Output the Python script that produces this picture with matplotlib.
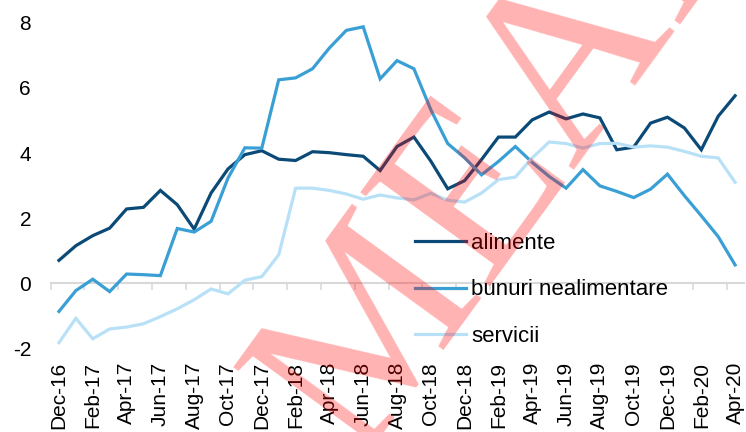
import matplotlib
matplotlib.use("Agg")
import matplotlib.pyplot as plt
import numpy as np

# monthly data, Dec-16 .. Apr-20
months = ["Dec-16", "Jan-17", "Feb-17", "Mar-17", "Apr-17", "May-17", "Jun-17", "Jul-17",
          "Aug-17", "Sep-17", "Oct-17", "Nov-17", "Dec-17", "Jan-18", "Feb-18", "Mar-18",
          "Apr-18", "May-18", "Jun-18", "Jul-18", "Aug-18", "Sep-18", "Oct-18", "Nov-18",
          "Dec-18", "Jan-19", "Feb-19", "Mar-19", "Apr-19", "May-19", "Jun-19", "Jul-19",
          "Aug-19", "Sep-19", "Oct-19", "Nov-19", "Dec-19", "Jan-20", "Feb-20", "Mar-20",
          "Apr-20"]

alimente = [0.70, 1.15, 1.46, 1.69, 2.28, 2.33, 2.85, 2.41, 1.66, 2.77, 3.51, 3.95,
            4.07, 3.81, 3.77, 4.04, 4.01, 3.95, 3.90, 3.46, 4.20, 4.49, 3.75, 2.90,
            3.15, 3.80, 4.49, 4.49, 5.02, 5.26, 5.05, 5.20, 5.08, 4.10, 4.18, 4.92,
            5.10, 4.77, 4.10, 5.13, 5.76]

bunuri = [-0.87, -0.23, 0.12, -0.26, 0.28, 0.26, 0.23, 1.68, 1.57, 1.90, 3.23, 4.16,
          4.15, 6.25, 6.31, 6.59, 7.23, 7.77, 7.88, 6.28, 6.84, 6.59, 5.33, 4.29,
          3.85, 3.33, 3.74, 4.20, 3.71, 3.28, 2.92, 3.49, 2.99, 2.82, 2.63, 2.89,
          3.35, 2.69, 2.07, 1.43, 0.56]

servicii = [-1.83, -1.08, -1.71, -1.41, -1.35, -1.25, -1.03, -0.79, -0.51, -0.18, -0.33, 0.09,
            0.20, 0.87, 2.92, 2.92, 2.85, 2.74, 2.58, 2.71, 2.62, 2.56, 2.76, 2.55,
            2.49, 2.77, 3.18, 3.26, 3.85, 4.34, 4.29, 4.15, 4.29, 4.30, 4.18, 4.22,
            4.18, 4.05, 3.90, 3.85, 3.10]

colors = ["#0b4a77", "#3a9fd5", "#b8e1f8"]
labels = ["alimente", "bunuri nealimentare", "servicii"]

plt.rcParams["font.family"] = ["Liberation Sans", "DejaVu Sans"]
plt.rcParams["axes.unicode_minus"] = False

fig = plt.figure(figsize=(7.46, 4.32), dpi=100)
ax = fig.add_axes([0.0677, 0.194, 0.929, 0.753])

x = np.arange(len(months))
for series, c, lab in zip([alimente, bunuri, servicii], colors, labels):
    ax.plot(x, series, color=c, lw=2.3, label=lab, solid_joinstyle="miter")

ax.set_xlim(-0.5, len(months) - 0.5)
ax.set_ylim(-2, 8)
ax.set_yticks([-2, 0, 2, 4, 6, 8])
ax.set_xticks(x[::2])
ax.set_xticklabels(months[::2], rotation=90, fontsize=15)
ax.tick_params(axis="x", length=0, pad=10)
ax.tick_params(axis="y", length=0, pad=14, labelsize=15)
for s in ax.spines.values():
    s.set_visible(False)

# zero line with the category tick marks
zero_ax = ax.secondary_xaxis(0.2)
zero_ax.set_xticks(np.arange(-0.5, len(months), 2))
zero_ax.tick_params(length=5, width=1.2, color="#d9d9d9", labelbottom=False)
zero_ax.spines["bottom"].set_color("#d9d9d9")
zero_ax.spines["bottom"].set_linewidth(1.5)

ax.legend(loc="upper left", bbox_to_anchor=(0.513, 0.382), frameon=False, fontsize=16,
          handlelength=2.3, handletextpad=0.22, labelspacing=1.15, borderaxespad=0)

# watermark
fig.text(0.625, 0.50, "AMEAB", rotation=54, fontsize=175, family="Liberation Serif",
         color="red", alpha=0.3, ha="center", va="center",
         rotation_mode="anchor", zorder=10)

fig.savefig("out.png", dpi=100)
